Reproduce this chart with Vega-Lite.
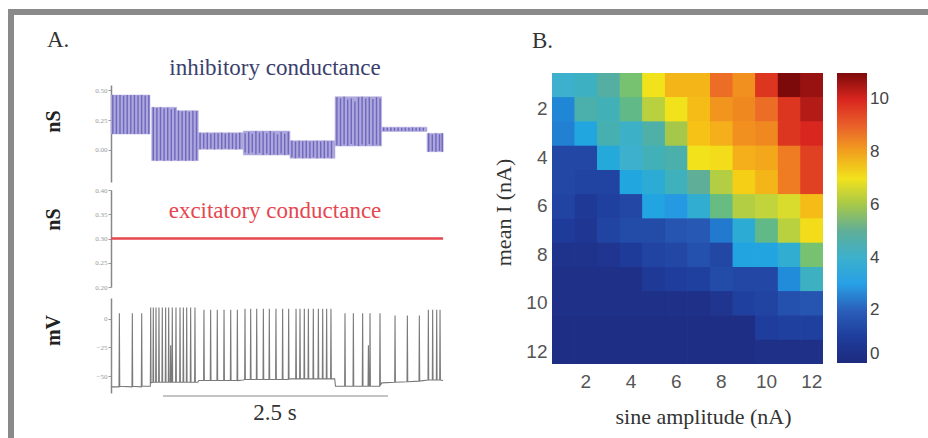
{
  "$schema": "https://vega.github.io/schema/vega-lite/v6.json",
  "width": 917,
  "height": 426,
  "autosize": "none",
  "padding": {"left": 11, "top": 12, "right": 0, "bottom": 0},
  "background": "white",
  "config": {
    "view": {"stroke": "#8a8a8a", "strokeWidth": 6, "strokeDash": [917, 1343, 426, 0], "strokeCap": "square"},
    "axis": {"grid": false},
    "font": "Liberation Serif"
  },
  "datasets": {
    "inh": [
      {"t0": 0, "t1": 0.433, "lo": 0.133, "hi": 0.458},
      {"t0": 0.452, "t1": 0.73, "lo": -0.089, "hi": 0.356},
      {"t0": 0.73, "t1": 0.97, "lo": -0.089, "hi": 0.328},
      {"t0": 0.97, "t1": 1.47, "lo": 0.006, "hi": 0.144},
      {"t0": 1.47, "t1": 1.989, "lo": -0.042, "hi": 0.158},
      {"t0": 1.989, "t1": 2.489, "lo": -0.069, "hi": 0.078},
      {"t0": 2.489, "t1": 3.007, "lo": 0.033, "hi": 0.444},
      {"t0": 3.007, "t1": 3.511, "lo": 0.155, "hi": 0.19},
      {"t0": 3.511, "t1": 3.692, "lo": -0.014, "hi": 0.139}
    ],
    "inhcycles": [
      {"t": 0.02, "lo": 0.133, "hi": 0.458}, {"t": 0.06, "lo": 0.135, "hi": 0.455}, {"t": 0.1, "lo": 0.133, "hi": 0.458}, {"t": 0.14, "lo": 0.136, "hi": 0.452},
      {"t": 0.18, "lo": 0.133, "hi": 0.458}, {"t": 0.22, "lo": 0.135, "hi": 0.456}, {"t": 0.26, "lo": 0.133, "hi": 0.458}, {"t": 0.3, "lo": 0.136, "hi": 0.455},
      {"t": 0.34, "lo": 0.133, "hi": 0.458}, {"t": 0.38, "lo": 0.135, "hi": 0.452}, {"t": 0.42, "lo": 0.133, "hi": 0.456},
      {"t": 0.47, "lo": -0.085, "hi": 0.356}, {"t": 0.51, "lo": -0.089, "hi": 0.35}, {"t": 0.55, "lo": -0.083, "hi": 0.356}, {"t": 0.59, "lo": -0.089, "hi": 0.345},
      {"t": 0.63, "lo": -0.086, "hi": 0.352}, {"t": 0.67, "lo": -0.089, "hi": 0.34}, {"t": 0.71, "lo": -0.084, "hi": 0.35},
      {"t": 0.75, "lo": -0.089, "hi": 0.328}, {"t": 0.79, "lo": -0.085, "hi": 0.32}, {"t": 0.83, "lo": -0.089, "hi": 0.328}, {"t": 0.87, "lo": -0.086, "hi": 0.318},
      {"t": 0.91, "lo": -0.089, "hi": 0.328}, {"t": 0.95, "lo": -0.085, "hi": 0.325},
      {"t": 0.99, "lo": 0.006, "hi": 0.144}, {"t": 1.03, "lo": 0.012, "hi": 0.138}, {"t": 1.07, "lo": 0.006, "hi": 0.144}, {"t": 1.11, "lo": 0.01, "hi": 0.135},
      {"t": 1.15, "lo": 0.004, "hi": 0.142}, {"t": 1.19, "lo": 0.01, "hi": 0.14}, {"t": 1.23, "lo": 0.006, "hi": 0.144}, {"t": 1.27, "lo": 0.012, "hi": 0.136},
      {"t": 1.31, "lo": 0.006, "hi": 0.144}, {"t": 1.35, "lo": 0.008, "hi": 0.14}, {"t": 1.39, "lo": 0.004, "hi": 0.138}, {"t": 1.43, "lo": 0.008, "hi": 0.144},
      {"t": 1.49, "lo": -0.02, "hi": 0.14}, {"t": 1.53, "lo": -0.03, "hi": 0.15}, {"t": 1.57, "lo": -0.02, "hi": 0.135}, {"t": 1.61, "lo": -0.035, "hi": 0.158},
      {"t": 1.65, "lo": -0.025, "hi": 0.145}, {"t": 1.69, "lo": -0.042, "hi": 0.155}, {"t": 1.73, "lo": -0.03, "hi": 0.14}, {"t": 1.77, "lo": -0.042, "hi": 0.158},
      {"t": 1.81, "lo": -0.035, "hi": 0.145}, {"t": 1.85, "lo": -0.04, "hi": 0.13}, {"t": 1.89, "lo": -0.03, "hi": 0.15}, {"t": 1.93, "lo": -0.042, "hi": 0.135},
      {"t": 1.97, "lo": -0.035, "hi": 0.15},
      {"t": 2.01, "lo": -0.06, "hi": 0.078}, {"t": 2.05, "lo": -0.069, "hi": 0.07}, {"t": 2.09, "lo": -0.062, "hi": 0.078}, {"t": 2.13, "lo": -0.069, "hi": 0.072},
      {"t": 2.17, "lo": -0.064, "hi": 0.078}, {"t": 2.21, "lo": -0.069, "hi": 0.07}, {"t": 2.25, "lo": -0.06, "hi": 0.076}, {"t": 2.29, "lo": -0.069, "hi": 0.078},
      {"t": 2.33, "lo": -0.065, "hi": 0.07}, {"t": 2.37, "lo": -0.069, "hi": 0.078}, {"t": 2.41, "lo": -0.062, "hi": 0.072}, {"t": 2.45, "lo": -0.069, "hi": 0.076},
      {"t": 2.51, "lo": 0.04, "hi": 0.44}, {"t": 2.55, "lo": 0.033, "hi": 0.43}, {"t": 2.59, "lo": 0.045, "hi": 0.444}, {"t": 2.63, "lo": 0.035, "hi": 0.42},
      {"t": 2.67, "lo": 0.05, "hi": 0.43}, {"t": 2.71, "lo": 0.04, "hi": 0.405}, {"t": 2.75, "lo": 0.033, "hi": 0.44}, {"t": 2.79, "lo": 0.045, "hi": 0.444},
      {"t": 2.83, "lo": 0.035, "hi": 0.43}, {"t": 2.87, "lo": 0.05, "hi": 0.44}, {"t": 2.91, "lo": 0.04, "hi": 0.425}, {"t": 2.95, "lo": 0.045, "hi": 0.44},
      {"t": 2.99, "lo": 0.04, "hi": 0.43},
      {"t": 3.03, "lo": 0.158, "hi": 0.188}, {"t": 3.07, "lo": 0.16, "hi": 0.186}, {"t": 3.11, "lo": 0.158, "hi": 0.188}, {"t": 3.15, "lo": 0.16, "hi": 0.186},
      {"t": 3.19, "lo": 0.158, "hi": 0.188}, {"t": 3.23, "lo": 0.16, "hi": 0.186}, {"t": 3.27, "lo": 0.158, "hi": 0.188}, {"t": 3.31, "lo": 0.16, "hi": 0.186},
      {"t": 3.35, "lo": 0.158, "hi": 0.188}, {"t": 3.39, "lo": 0.16, "hi": 0.186}, {"t": 3.43, "lo": 0.158, "hi": 0.188}, {"t": 3.47, "lo": 0.16, "hi": 0.186},
      {"t": 3.53, "lo": -0.014, "hi": 0.139}, {"t": 3.57, "lo": -0.01, "hi": 0.13}, {"t": 3.61, "lo": -0.014, "hi": 0.139}, {"t": 3.65, "lo": -0.008, "hi": 0.132},
      {"t": 3.68, "lo": -0.014, "hi": 0.139}
    ],
    "exc": [
      {"t": 0, "g": 0.3},
      {"t": 3.69, "g": 0.3}
    ],
    "vm": [
      {"t": 0, "v": -59.5},
      {"t": 0.089, "v": -59.5}, {"t": 0.093, "v": 5}, {"t": 0.097, "v": -59},
      {"t": 0.233, "v": -59.5}, {"t": 0.237, "v": 5}, {"t": 0.241, "v": -59},
      {"t": 0.337, "v": -59.5}, {"t": 0.341, "v": 5}, {"t": 0.345, "v": -59},
      {"t": 0.437, "v": -59}, {"t": 0.441, "v": 10}, {"t": 0.445, "v": -56},
      {"t": 0.466, "v": -55.5}, {"t": 0.47, "v": 10}, {"t": 0.474, "v": -55.5},
      {"t": 0.496, "v": -55.5}, {"t": 0.5, "v": 10}, {"t": 0.504, "v": -55.5},
      {"t": 0.529, "v": -55.5}, {"t": 0.533, "v": 10}, {"t": 0.537, "v": -55.5},
      {"t": 0.566, "v": -55.5}, {"t": 0.57, "v": 10}, {"t": 0.574, "v": -55.5},
      {"t": 0.603, "v": -55.5}, {"t": 0.607, "v": 10}, {"t": 0.611, "v": -55.5},
      {"t": 0.637, "v": -55.5}, {"t": 0.641, "v": 10}, {"t": 0.645, "v": -55.5},
      {"t": 0.659, "v": -55.5}, {"t": 0.663, "v": -23}, {"t": 0.667, "v": -55.5},
      {"t": 0.677, "v": -55.5}, {"t": 0.681, "v": 10}, {"t": 0.685, "v": -55.5},
      {"t": 0.718, "v": -55.5}, {"t": 0.722, "v": 10}, {"t": 0.726, "v": -55.5},
      {"t": 0.763, "v": -55.5}, {"t": 0.767, "v": 10}, {"t": 0.771, "v": -55.5},
      {"t": 0.8, "v": -55.5}, {"t": 0.804, "v": 10}, {"t": 0.808, "v": -55.5},
      {"t": 0.837, "v": -55.5}, {"t": 0.841, "v": 10}, {"t": 0.845, "v": -55.5},
      {"t": 0.881, "v": -55.5}, {"t": 0.885, "v": 10}, {"t": 0.889, "v": -55.5},
      {"t": 0.929, "v": -55.5}, {"t": 0.933, "v": 10}, {"t": 0.937, "v": -55.5},
      {"t": 0.965, "v": -55.5}, {"t": 0.975, "v": -54},
      {"t": 1.029, "v": -54}, {"t": 1.033, "v": 8}, {"t": 1.037, "v": -54},
      {"t": 1.103, "v": -54}, {"t": 1.107, "v": 8}, {"t": 1.111, "v": -54},
      {"t": 1.177, "v": -54}, {"t": 1.181, "v": 8}, {"t": 1.185, "v": -54},
      {"t": 1.252, "v": -54}, {"t": 1.256, "v": 8}, {"t": 1.26, "v": -54},
      {"t": 1.326, "v": -54}, {"t": 1.33, "v": 8}, {"t": 1.334, "v": -54},
      {"t": 1.4, "v": -54}, {"t": 1.404, "v": 8}, {"t": 1.408, "v": -54},
      {"t": 1.47, "v": -53.5},
      {"t": 1.485, "v": -53}, {"t": 1.489, "v": 9}, {"t": 1.493, "v": -53},
      {"t": 1.548, "v": -53}, {"t": 1.552, "v": 9}, {"t": 1.556, "v": -53},
      {"t": 1.615, "v": -53}, {"t": 1.619, "v": 9}, {"t": 1.623, "v": -53},
      {"t": 1.689, "v": -53}, {"t": 1.693, "v": 9}, {"t": 1.697, "v": -53},
      {"t": 1.755, "v": -53}, {"t": 1.759, "v": 9}, {"t": 1.763, "v": -53},
      {"t": 1.829, "v": -53}, {"t": 1.833, "v": 9}, {"t": 1.837, "v": -53},
      {"t": 1.903, "v": -53}, {"t": 1.907, "v": 9}, {"t": 1.911, "v": -53},
      {"t": 1.97, "v": -53}, {"t": 1.974, "v": 9}, {"t": 1.978, "v": -52.5},
      {"t": 2.052, "v": -52.5}, {"t": 2.056, "v": 9}, {"t": 2.06, "v": -52.5},
      {"t": 2.096, "v": -52.5}, {"t": 2.1, "v": 9}, {"t": 2.104, "v": -52.5},
      {"t": 2.144, "v": -52.5}, {"t": 2.148, "v": 9}, {"t": 2.152, "v": -52.5},
      {"t": 2.189, "v": -52.5}, {"t": 2.193, "v": 9}, {"t": 2.197, "v": -52.5},
      {"t": 2.244, "v": -52.5}, {"t": 2.248, "v": 9}, {"t": 2.252, "v": -52.5},
      {"t": 2.3, "v": -52.5}, {"t": 2.304, "v": 9}, {"t": 2.308, "v": -52.5},
      {"t": 2.348, "v": -52.5}, {"t": 2.352, "v": 9}, {"t": 2.356, "v": -52.5},
      {"t": 2.392, "v": -52.5}, {"t": 2.396, "v": 9}, {"t": 2.4, "v": -52.5},
      {"t": 2.44, "v": -52.5}, {"t": 2.444, "v": 9}, {"t": 2.448, "v": -52.5},
      {"t": 2.485, "v": -52.5}, {"t": 2.495, "v": -59},
      {"t": 2.596, "v": -59}, {"t": 2.6, "v": 5}, {"t": 2.604, "v": -59},
      {"t": 2.689, "v": -59}, {"t": 2.693, "v": 5}, {"t": 2.697, "v": -59},
      {"t": 2.792, "v": -59}, {"t": 2.796, "v": 5}, {"t": 2.8, "v": -59},
      {"t": 2.856, "v": -59}, {"t": 2.86, "v": -23}, {"t": 2.864, "v": -59},
      {"t": 2.874, "v": -59}, {"t": 2.878, "v": 5}, {"t": 2.882, "v": -59},
      {"t": 2.985, "v": -59}, {"t": 2.989, "v": 5}, {"t": 2.993, "v": -58},
      {"t": 3.01, "v": -56},
      {"t": 3.152, "v": -55.5}, {"t": 3.156, "v": 3}, {"t": 3.16, "v": -55.5},
      {"t": 3.289, "v": -55}, {"t": 3.293, "v": 3}, {"t": 3.297, "v": -55},
      {"t": 3.422, "v": -54.5}, {"t": 3.426, "v": 3}, {"t": 3.43, "v": -54.5},
      {"t": 3.522, "v": -53.5}, {"t": 3.526, "v": 8}, {"t": 3.53, "v": -53.5},
      {"t": 3.57, "v": -53.5}, {"t": 3.574, "v": 8}, {"t": 3.578, "v": -53.5},
      {"t": 3.615, "v": -53.5}, {"t": 3.619, "v": 8}, {"t": 3.623, "v": -53.5},
      {"t": 3.652, "v": -53.5}, {"t": 3.656, "v": 8}, {"t": 3.66, "v": -53.5},
      {"t": 3.69, "v": -54}
    ],
    "heat": [
      {"a":1,"i":1,"v":4.0},{"a":2,"i":1,"v":4.2},{"a":3,"i":1,"v":4.8},{"a":4,"i":1,"v":5.6},{"a":5,"i":1,"v":7.0},{"a":6,"i":1,"v":7.7},{"a":7,"i":1,"v":7.7},{"a":8,"i":1,"v":8.8},{"a":9,"i":1,"v":8.3},{"a":10,"i":1,"v":9.8},{"a":11,"i":1,"v":11.0},{"a":12,"i":1,"v":10.7},
      {"a":1,"i":2,"v":2.6},{"a":2,"i":2,"v":4.6},{"a":3,"i":2,"v":4.4},{"a":4,"i":2,"v":5.3},{"a":5,"i":2,"v":6.3},{"a":6,"i":2,"v":7.0},{"a":7,"i":2,"v":7.6},{"a":8,"i":2,"v":8.2},{"a":9,"i":2,"v":8.4},{"a":10,"i":2,"v":8.8},{"a":11,"i":2,"v":9.8},{"a":12,"i":2,"v":10.4},
      {"a":1,"i":3,"v":2.5},{"a":2,"i":3,"v":3.3},{"a":3,"i":3,"v":4.5},{"a":4,"i":3,"v":4.1},{"a":5,"i":3,"v":4.7},{"a":6,"i":3,"v":6.0},{"a":7,"i":3,"v":7.5},{"a":8,"i":3,"v":7.8},{"a":9,"i":3,"v":8.3},{"a":10,"i":3,"v":8.4},{"a":11,"i":3,"v":9.8},{"a":12,"i":3,"v":10.0},
      {"a":1,"i":4,"v":1.3},{"a":2,"i":4,"v":1.3},{"a":3,"i":4,"v":3.5},{"a":4,"i":4,"v":4.0},{"a":5,"i":4,"v":4.4},{"a":6,"i":4,"v":4.6},{"a":7,"i":4,"v":7.0},{"a":8,"i":4,"v":7.1},{"a":9,"i":4,"v":7.8},{"a":10,"i":4,"v":7.9},{"a":11,"i":4,"v":8.6},{"a":12,"i":4,"v":9.6},
      {"a":1,"i":5,"v":1.3},{"a":2,"i":5,"v":1.2},{"a":3,"i":5,"v":1.2},{"a":4,"i":5,"v":3.3},{"a":5,"i":5,"v":3.7},{"a":6,"i":5,"v":4.3},{"a":7,"i":5,"v":5.0},{"a":8,"i":5,"v":6.2},{"a":9,"i":5,"v":7.3},{"a":10,"i":5,"v":7.7},{"a":11,"i":5,"v":8.6},{"a":12,"i":5,"v":9.6},
      {"a":1,"i":6,"v":1.2},{"a":2,"i":6,"v":0.8},{"a":3,"i":6,"v":1.1},{"a":4,"i":6,"v":1.3},{"a":5,"i":6,"v":3.2},{"a":6,"i":6,"v":2.9},{"a":7,"i":6,"v":3.8},{"a":8,"i":6,"v":5.4},{"a":9,"i":6,"v":6.2},{"a":10,"i":6,"v":6.4},{"a":11,"i":6,"v":6.7},{"a":12,"i":6,"v":7.6},
      {"a":1,"i":7,"v":0.9},{"a":2,"i":7,"v":0.7},{"a":3,"i":7,"v":1.2},{"a":4,"i":7,"v":1.4},{"a":5,"i":7,"v":1.4},{"a":6,"i":7,"v":1.7},{"a":7,"i":7,"v":1.8},{"a":8,"i":7,"v":2.4},{"a":9,"i":7,"v":3.7},{"a":10,"i":7,"v":5.3},{"a":11,"i":7,"v":6.3},{"a":12,"i":7,"v":7.1},
      {"a":1,"i":8,"v":0.5},{"a":2,"i":8,"v":0.5},{"a":3,"i":8,"v":0.6},{"a":4,"i":8,"v":0.9},{"a":5,"i":8,"v":1.2},{"a":6,"i":8,"v":1.3},{"a":7,"i":8,"v":1.6},{"a":8,"i":8,"v":1.3},{"a":9,"i":8,"v":3.2},{"a":10,"i":8,"v":3.2},{"a":11,"i":8,"v":3.8},{"a":12,"i":8,"v":5.6},
      {"a":1,"i":9,"v":0.3},{"a":2,"i":9,"v":0.3},{"a":3,"i":9,"v":0.3},{"a":4,"i":9,"v":0.3},{"a":5,"i":9,"v":0.8},{"a":6,"i":9,"v":1.0},{"a":7,"i":9,"v":1.1},{"a":8,"i":9,"v":1.4},{"a":9,"i":9,"v":1.3},{"a":10,"i":9,"v":1.3},{"a":11,"i":9,"v":2.7},{"a":12,"i":9,"v":4.2},
      {"a":1,"i":10,"v":0.3},{"a":2,"i":10,"v":0.3},{"a":3,"i":10,"v":0.3},{"a":4,"i":10,"v":0.3},{"a":5,"i":10,"v":0.3},{"a":6,"i":10,"v":0.3},{"a":7,"i":10,"v":0.3},{"a":8,"i":10,"v":0.6},{"a":9,"i":10,"v":1.1},{"a":10,"i":10,"v":1.2},{"a":11,"i":10,"v":1.6},{"a":12,"i":10,"v":1.7},
      {"a":1,"i":11,"v":0.2},{"a":2,"i":11,"v":0.2},{"a":3,"i":11,"v":0.2},{"a":4,"i":11,"v":0.2},{"a":5,"i":11,"v":0.2},{"a":6,"i":11,"v":0.2},{"a":7,"i":11,"v":0.2},{"a":8,"i":11,"v":0.2},{"a":9,"i":11,"v":0.2},{"a":10,"i":11,"v":1.0},{"a":11,"i":11,"v":1.1},{"a":12,"i":11,"v":1.1},
      {"a":1,"i":12,"v":0.2},{"a":2,"i":12,"v":0.2},{"a":3,"i":12,"v":0.2},{"a":4,"i":12,"v":0.2},{"a":5,"i":12,"v":0.2},{"a":6,"i":12,"v":0.2},{"a":7,"i":12,"v":0.2},{"a":8,"i":12,"v":0.2},{"a":9,"i":12,"v":0.2},{"a":10,"i":12,"v":0.3},{"a":11,"i":12,"v":0.3},{"a":12,"i":12,"v":0.3}
    ]
  },
  "layer": [
    {
      "layer": [
        {
          "data": {"name": "inh"},
          "mark": {"type": "rect", "fill": "#aca7dc", "stroke": "#aca7dc", "strokeWidth": 0.5},
          "encoding": {
            "x": {"field": "t0", "type": "quantitative", "scale": {"domain": [0, 3.7], "range": [100, 433], "nice": false, "zero": false}, "axis": null},
            "x2": {"field": "t1"},
            "y": {"field": "lo", "type": "quantitative",
              "scale": {"domain": [-0.2667, 0.5417], "range": [170, 73], "nice": false, "zero": false},
              "axis": {"orient": "left", "offset": -100, "values": [0, 0.25, 0.5], "format": ".2f",
                "labelFontSize": 7, "labelColor": "#999", "labelPadding": 1, "tickColor": "#999", "tickSize": 3,
                "domainColor": "#888", "domainWidth": 1.5,
                "title": "nS", "titleFont": "Liberation Serif", "titleFontWeight": "bold", "titleFontSize": 20,
                "titleColor": "#222", "titleAngle": 270, "titleAlign": "center", "titleBaseline": "middle",
                "titleX": -58, "titleY": 109}},
            "y2": {"field": "hi"}
          }
        },
        {
          "data": {"name": "inhcycles"},
          "mark": {"type": "rule", "color": "#6f68bd", "strokeWidth": 1.4},
          "encoding": {
            "x": {"field": "t", "type": "quantitative"},
            "y": {"field": "lo", "type": "quantitative"},
            "y2": {"field": "hi"}
          }
        },
        {
          "data": {"values": [{}]},
          "mark": {"type": "text", "text": "inhibitory conductance", "font": "Liberation Serif", "fontSize": 23, "color": "#3b3f6e", "align": "center", "baseline": "alphabetic"},
          "encoding": {"x": {"datum": 1.822}, "y": {"datum": 0.625}}
        },
        {
          "data": {"values": [{}]},
          "mark": {"type": "text", "text": "A.", "font": "Liberation Serif", "fontSize": 23, "color": "#333", "align": "left", "baseline": "alphabetic"},
          "encoding": {"x": {"datum": -0.711}, "y": {"datum": 0.858}}
        },
        {
          "data": {"values": [{}]},
          "mark": {"type": "text", "text": "B.", "font": "Liberation Serif", "fontSize": 23, "color": "#333", "align": "left", "baseline": "alphabetic"},
          "encoding": {"x": {"datum": 4.678}, "y": {"datum": 0.85}}
        }
      ]
    },
    {
      "layer": [
        {
          "data": {"name": "exc"},
          "mark": {"type": "line", "color": "#e5474f", "strokeWidth": 2.5},
          "encoding": {
            "x": {"field": "t", "type": "quantitative", "scale": {"domain": [0, 3.7], "range": [100, 433], "nice": false, "zero": false}, "axis": null},
            "y": {"field": "g", "type": "quantitative",
              "scale": {"domain": [0.2, 0.4], "range": [275, 178], "nice": false, "zero": false},
              "axis": {"orient": "left", "offset": -100, "values": [0.2, 0.25, 0.3, 0.35, 0.4], "format": ".2f",
                "labelFontSize": 7, "labelColor": "#999", "labelPadding": 1, "tickColor": "#999", "tickSize": 3,
                "domainColor": "#888", "domainWidth": 1.5,
                "title": "nS", "titleFont": "Liberation Serif", "titleFontWeight": "bold", "titleFontSize": 20,
                "titleColor": "#222", "titleAngle": 270, "titleAlign": "center", "titleBaseline": "middle",
                "titleX": -58, "titleY": 207}}
          }
        },
        {
          "data": {"values": [{}]},
          "mark": {"type": "text", "text": "excitatory conductance", "font": "Liberation Serif", "fontSize": 23, "color": "#e5474f", "align": "center", "baseline": "alphabetic"},
          "encoding": {"x": {"datum": 1.822}, "y": {"datum": 0.3417}}
        }
      ]
    },
    {
      "layer": [
        {
          "data": {"name": "vm"},
          "mark": {"type": "line", "color": "#7a7a7a", "strokeWidth": 1.1},
          "encoding": {
            "x": {"field": "t", "type": "quantitative", "scale": {"domain": [0, 3.7], "range": [100, 433], "nice": false, "zero": false}, "axis": null},
            "y": {"field": "v", "type": "quantitative",
              "scale": {"domain": [-64.9, 18.4], "range": [381, 286], "nice": false, "zero": false},
              "axis": {"orient": "left", "offset": -100, "values": [-50, -25, 0], "format": "d",
                "labelFontSize": 7, "labelColor": "#999", "labelPadding": 1, "tickColor": "#999", "tickSize": 3,
                "domainColor": "#888", "domainWidth": 1.5,
                "title": "mV", "titleFont": "Liberation Serif", "titleFontWeight": "bold", "titleFontSize": 20,
                "titleColor": "#222", "titleAngle": 270, "titleAlign": "center", "titleBaseline": "middle",
                "titleX": -58, "titleY": 318}}
          }
        },
        {
          "data": {"values": [{}]},
          "mark": {"type": "rule", "color": "#b0b0b0", "strokeWidth": 1.5},
          "encoding": {"x": {"datum": 0.578}, "x2": {"datum": 3.078}, "y": {"datum": -67.5}}
        },
        {
          "data": {"values": [{}]},
          "mark": {"type": "text", "text": "2.5 s", "font": "Liberation Serif", "fontSize": 23, "color": "#333", "align": "center", "baseline": "alphabetic"},
          "encoding": {"x": {"datum": 1.822}, "y": {"datum": -88.6}}
        }
      ]
    },
    {
      "data": {"name": "heat"},
      "encoding": {
        "x": {"field": "a", "type": "ordinal", "sort": "ascending",
          "scale": {"range": [541, 812], "paddingInner": 0, "paddingOuter": 0},
          "axis": {"orient": "bottom", "offset": -74, "values": [2, 4, 6, 8, 10, 12], "ticks": false, "domain": false,
            "labelFont": "Liberation Sans", "labelFontSize": 19, "labelColor": "#555", "labelPadding": 8, "labelAngle": 0,
            "title": "sine amplitude (nA)", "titleFont": "Liberation Serif", "titleFontSize": 22, "titleFontWeight": "normal",
            "titleColor": "#333", "titleX": 692, "titleY": 52, "titleAlign": "center", "titleBaseline": "middle"}},
        "y": {"field": "i", "type": "ordinal", "sort": "ascending",
          "scale": {"range": [61, 352], "paddingInner": 0, "paddingOuter": 0},
          "axis": {"orient": "left", "offset": -541, "values": [2, 4, 6, 8, 10, 12], "ticks": false, "domain": false,
            "labelFont": "Liberation Sans", "labelFontSize": 19, "labelColor": "#555", "labelPadding": 5,
            "title": "mean I (nA)", "titleFont": "Liberation Serif", "titleFontSize": 22, "titleFontWeight": "normal",
            "titleColor": "#333", "titleAngle": 270, "titleX": -49, "titleY": 200, "titleAlign": "center", "titleBaseline": "middle"}},
        "color": {"field": "v", "type": "quantitative",
          "scale": {"domain": [0, 1, 2, 3, 4, 5, 6, 7, 8, 9, 10, 11],
            "range": ["#1d2a7e", "#1f3d9c", "#2a5fba", "#28a0e6", "#3cb0cc", "#5fae98", "#a6c84a", "#f2e21c", "#f2a21e", "#e9602a", "#d9261f", "#7d0a0a"]},
          "legend": {"orient": "none", "legendX": 826, "legendY": 61, "direction": "vertical", "title": null,
            "gradientLength": 290, "gradientThickness": 30, "gradientStrokeWidth": 0,
            "values": [0, 2, 4, 6, 8, 10], "labelFont": "Liberation Sans", "labelFontSize": 17, "labelColor": "#444", "labelOffset": 3}}
      },
      "layer": [
        {"mark": {"type": "rect"}},
        {"mark": {"type": "rect"}},
        {"mark": {"type": "rect"}}
      ]
    }
  ],
  "resolve": {"scale": {"x": "independent", "y": "independent", "color": "independent"}}
}
